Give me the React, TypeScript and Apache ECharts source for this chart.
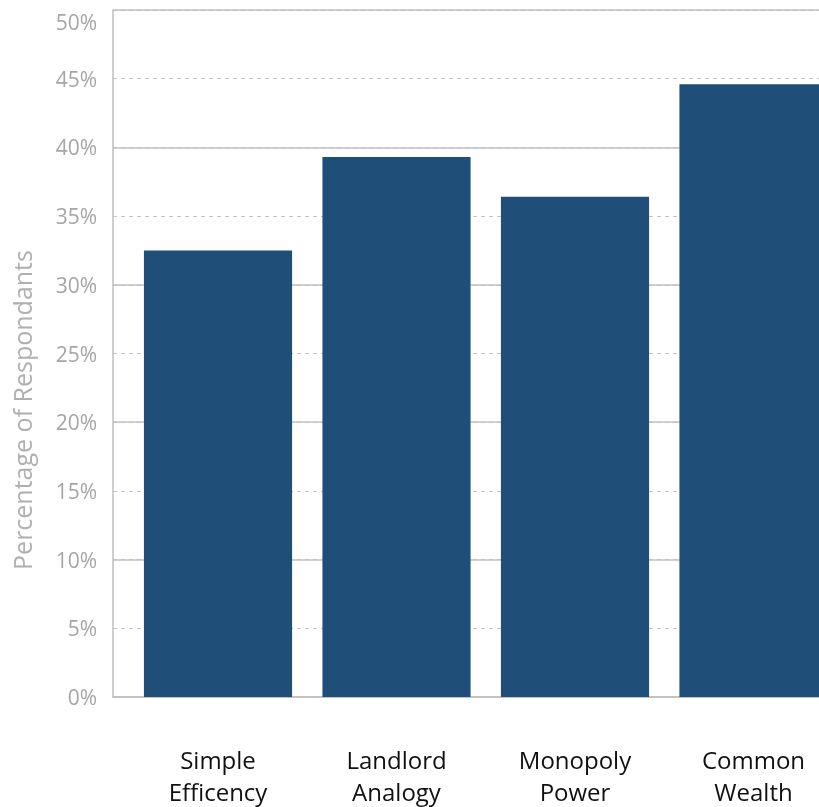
import React, { useEffect, useRef } from "react";
import * as echarts from "echarts";

const categories = ["Simple\nEfficency", "Landlord\nAnalogy", "Monopoly\nPower", "Common\nWealth"];
const values = [32.5, 39.3, 36.4, 44.6];
const yTitle = "Percentage of Respondants";

export default function App() {
  const ref = useRef<HTMLDivElement>(null);
  useEffect(() => {
    if (!ref.current) return;
    const chart = echarts.init(ref.current, null, { renderer: "svg" });
    const font = "'Open Sans', 'Liberation Sans', sans-serif";
    chart.setOption({
      animation: false,
      grid: [
        { left: 113, top: 10, right: 0, bottom: 110, containLabel: false, outerBoundsMode: "none" },
        { left: 128.75, top: 10, right: 17.25, bottom: 110, containLabel: false, outerBoundsMode: "none" },
      ],
      graphic: [
        {
          type: "text", x: 22, y: 410, rotation: Math.PI / 2,
          style: {
            text: yTitle, fill: "#b0b0b0", fontSize: 25, fontFamily: font,
            align: "center", verticalAlign: "middle",
          },
        },
      ],
      xAxis: [
        {
          gridIndex: 0, type: "value", min: 0, max: 1,
          axisLine: { show: true, lineStyle: { color: "#bfbfbf", width: 1.5 } },
          axisTick: { show: false }, axisLabel: { show: false }, splitLine: { show: false },
        },
        {
          gridIndex: 1, type: "category", data: categories,
          axisLine: { show: false }, axisTick: { show: false },
          axisLabel: { color: "#111", fontSize: 24, lineHeight: 32, margin: 46, fontFamily: font },
        },
      ],
      yAxis: [
        {
          gridIndex: 0, type: "value", min: 0, max: 50, interval: 5,
          axisLine: { show: true, lineStyle: { color: "#bfbfbf", width: 1.5 } },
          axisTick: { show: false },
          axisLabel: {
            formatter: (v: number) => (v === 50 ? "{top|" + v + "%}" : v + "%"),
            color: "#a6a6a6", fontSize: 21, margin: 16, fontFamily: font,
            rich: { top: { padding: [24, 0, 0, 0], color: "#a6a6a6", fontSize: 21, fontFamily: font } },
          },
          splitLine: { show: true, lineStyle: { color: "#c4c4c4", type: [4, 4], width: 1 } },
        },
        {
          gridIndex: 0, type: "value", min: 0, max: 50, interval: 10,
          axisLine: { show: false }, axisTick: { show: false }, axisLabel: { show: false },
          splitLine: { show: true, lineStyle: { color: "#c0c0c0", width: 1.5 } },
        },
        { gridIndex: 1, type: "value", min: 0, max: 50, show: false },
      ],
      series: [
        {
          type: "bar", xAxisIndex: 1, yAxisIndex: 2, data: values,
          barWidth: "83%",
          itemStyle: { color: "#1f4e79" },
        },
      ],
    });
    return () => chart.dispose();
  }, []);
  return (
    <div style={{ position: "fixed", left: 0, top: 0, width: 819, height: 807, overflow: "hidden" }}>
      <div ref={ref} style={{ width: 860, height: 807 }} />
    </div>
  );
}
